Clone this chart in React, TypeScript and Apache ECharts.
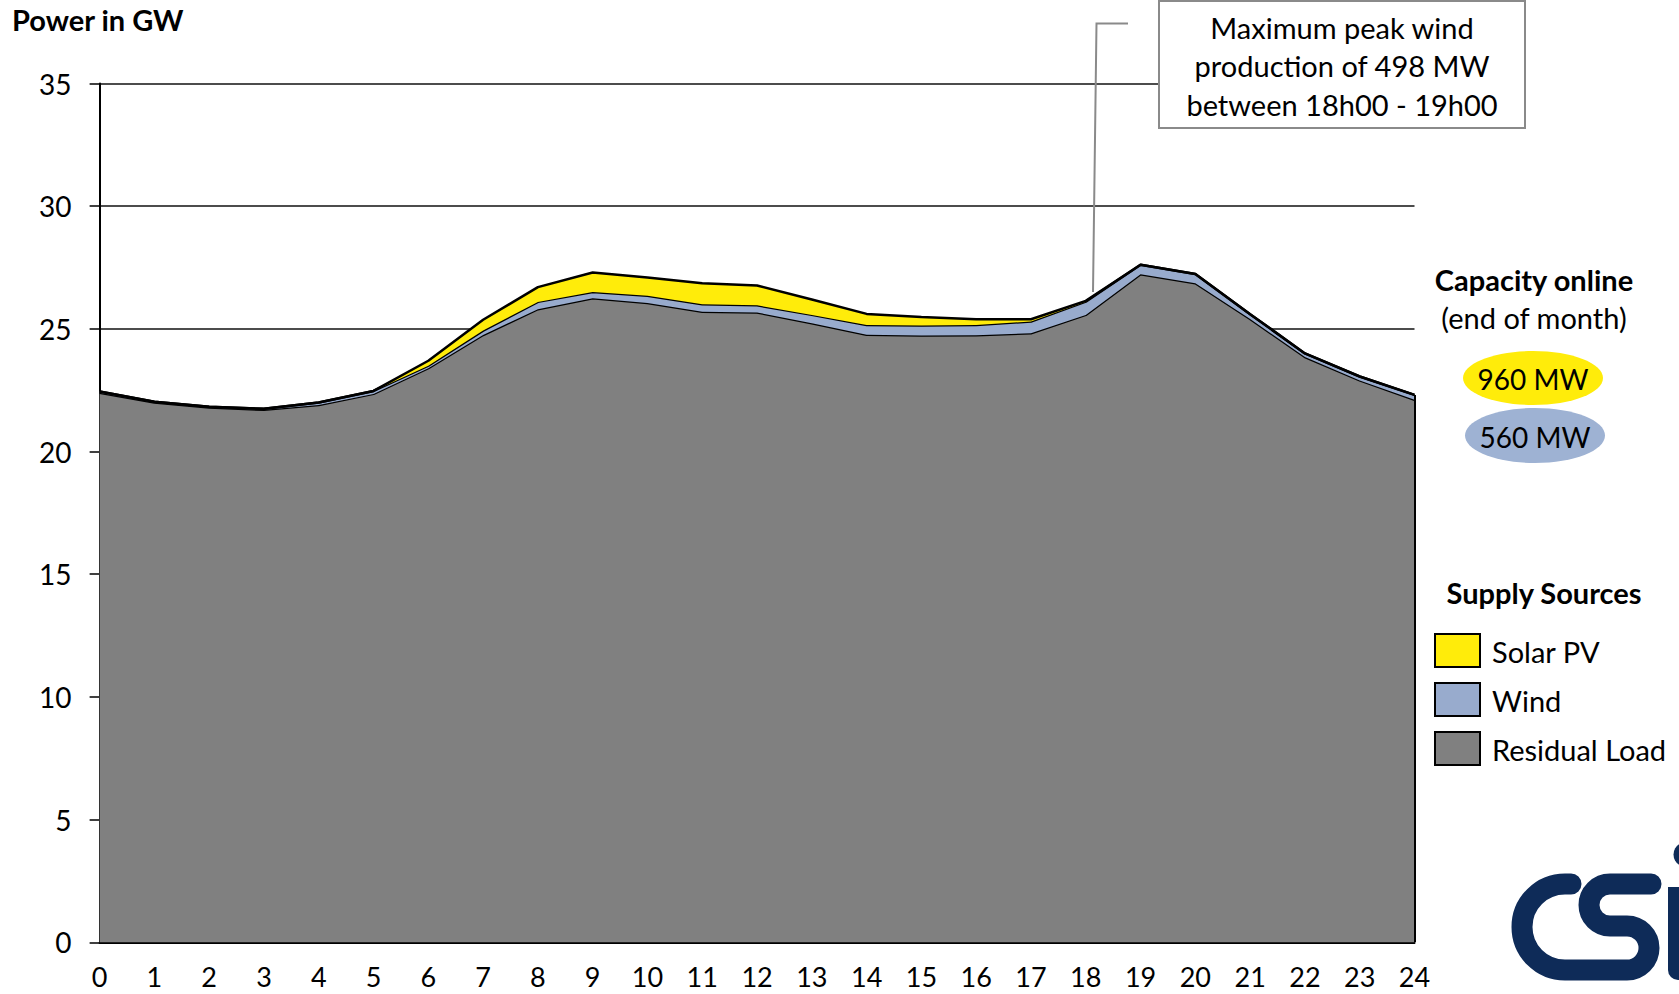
import React, { useEffect, useRef } from 'react';
import * as echarts from 'echarts';

// ---------- data ----------
const HOURS = ['0','1','2','3','4','5','6','7','8','9','10','11','12','13','14','15','16','17','18','19','20','21','22','23','24'];
const RESIDUAL_LOAD = [22.4, 22.0, 21.8, 21.7, 21.9, 22.35, 23.4, 24.75, 25.8, 26.25, 26.05, 25.7, 25.67, 25.23, 24.76, 24.73, 24.74, 24.82, 25.57, 27.23, 26.86, 25.4, 23.85, 22.9, 22.11];
const WIND = [0.05, 0.03, 0.03, 0.04, 0.1, 0.12, 0.1, 0.18, 0.3, 0.25, 0.3, 0.3, 0.29, 0.34, 0.4, 0.41, 0.42, 0.48, 0.54, 0.38, 0.38, 0.2, 0.15, 0.16, 0.2];
const SOLAR_PV = [0, 0, 0, 0, 0, 0, 0.2, 0.44, 0.6, 0.8, 0.74, 0.86, 0.81, 0.63, 0.45, 0.34, 0.23, 0.09, 0.03, 0, 0, 0, 0, 0, 0];
const Y_MIN = 0;
const Y_MAX = 35;
const Y_INTERVAL = 5;
const SERIES_NAMES = ['Residual Load', 'Wind', 'Solar PV'];
const LEGEND_ORDER = ['Solar PV', 'Wind', 'Residual Load'];
const CAPACITY_LABELS = ['960 MW', '560 MW'];
const ANNOTATION_LINES = ['Maximum peak wind', 'production of 498 MW', 'between 18h00 - 19h00'];

// ---------- styles ----------
const FONT = 'Lato, "Noto Sans", sans-serif';
const GRAY = '#808080';
const WIND_C = '#98abcd';
const YELLOW = '#ffec0a';
const NAVY = '#0e2b58';
const COLORS: Record<string, string> = { 'Residual Load': GRAY, 'Wind': WIND_C, 'Solar PV': YELLOW };

const LOGO_D = 'M 1571 884 L 1565 884 A 43 43 0 0 0 1565 970 L 1627 970 A 22 22 0 0 0 1627 926 L 1610 926 A 21 21 0 0 1 1610 884 L 1651 884';
try {
  echarts.graphic.registerShape('csiLogo', echarts.graphic.extendPath(LOGO_D, {}) as any);
} catch (e) {}

export default function App() {
  const ref = useRef<HTMLDivElement>(null);
  useEffect(() => {
    if (!ref.current) return;
    const chart = echarts.init(ref.current, undefined, { renderer: 'svg' });
    const seriesData = [RESIDUAL_LOAD, WIND, SOLAR_PV];
    const last = HOURS.length - 1;
    const totalLast = RESIDUAL_LOAD[last] + WIND[last] + SOLAR_PV[last];

    const series: any[] = SERIES_NAMES.map((name, i) => ({
      name,
      type: 'line',
      stack: 'total',
      data: seriesData[i],
      symbol: 'none',
      smooth: false,
      z: 2 + i,
      itemStyle: { color: COLORS[name] },
      lineStyle: { color: '#000', width: 2.5 },
      areaStyle: { color: COLORS[name], opacity: 1 },
      ...(i === 0
        ? {
            markLine: {
              silent: true,
              symbol: 'none',
              label: { show: false },
              lineStyle: { color: '#000', width: 2, type: 'solid' },
              data: [[{ coord: [HOURS[last], 0] }, { coord: [HOURS[last], totalLast] }]],
            },
          }
        : {}),
    }));

    const legendY = [634, 683, 732];
    const legendGraphics: any[] = [];
    LEGEND_ORDER.forEach((name, i) => {
      legendGraphics.push({
        type: 'rect',
        z: 100,
        shape: { x: 1435, y: legendY[i], width: 45, height: 33 },
        style: { fill: COLORS[name], stroke: '#000', lineWidth: 2 },
      });
      legendGraphics.push({
        type: 'text',
        z: 100,
        x: 1492,
        y: legendY[i] + 17,
        style: { text: name, font: `29px ${FONT}`, fill: '#000', verticalAlign: 'middle' },
      });
    });

    const annotation: any[] = [
      {
        type: 'polyline',
        z: 100,
        shape: { points: [[1128, 23.5], [1096.5, 23.5], [1093, 292]] },
        style: { stroke: '#8a8a8a', lineWidth: 2, fill: null },
      },
      {
        type: 'rect',
        z: 100,
        shape: { x: 1159, y: 1, width: 366, height: 127 },
        style: { fill: '#fff', stroke: '#8a8a8a', lineWidth: 2 },
      },
      ...ANNOTATION_LINES.map((t, i) => ({
        type: 'text',
        z: 101,
        x: 1342,
        y: 27 + i * 38.5,
        style: { text: t, font: `29px ${FONT}`, fill: '#000', align: 'center', verticalAlign: 'middle' },
      })),
    ];

    const capacity: any[] = [
      {
        type: 'text', z: 100, x: 1534, y: 279,
        style: { text: 'Capacity online', font: `bold 29px ${FONT}`, fill: '#000', align: 'center', verticalAlign: 'middle' },
      },
      {
        type: 'text', z: 100, x: 1534, y: 317,
        style: { text: '(end of month)', font: `29px ${FONT}`, fill: '#000', align: 'center', verticalAlign: 'middle' },
      },
      { type: 'ellipse', z: 100, shape: { cx: 1533, cy: 378, rx: 70, ry: 27 }, style: { fill: YELLOW } },
      { type: 'ellipse', z: 100, shape: { cx: 1535, cy: 435.5, rx: 70, ry: 27.5 }, style: { fill: '#9eb2d3' } },
      ...CAPACITY_LABELS.map((t, i) => ({
        type: 'text', z: 101, x: i === 0 ? 1533 : 1535, y: i === 0 ? 379 : 436.5,
        style: { text: t, font: `28px ${FONT}`, fill: '#000', align: 'center', verticalAlign: 'middle' },
      })),
      {
        type: 'text', z: 100, x: 1544, y: 592,
        style: { text: 'Supply Sources', font: `bold 29px ${FONT}`, fill: '#000', align: 'center', verticalAlign: 'middle' },
      },
    ];

    const logo: any[] = [
      {
        type: 'csiLogo', z: 100, x: 0, y: 0,
        style: { fill: 'none', stroke: NAVY, lineWidth: 21, lineCap: 'round', lineJoin: 'round' },
      },
      { type: 'rect', z: 100, shape: { x: 1668, y: 887, width: 30, height: 93, r: [0, 0, 0, 10] }, style: { fill: NAVY } },
      { type: 'circle', z: 100, shape: { cx: 1686, cy: 854.5, r: 12.5 }, style: { fill: NAVY } },
    ];

    const title: any[] = [
      {
        type: 'text', z: 100, x: 12, y: 19,
        style: { text: 'Power in GW', font: `bold 29px ${FONT}`, fill: '#000', verticalAlign: 'middle' },
      },
    ];

    chart.setOption({
      animation: false,
      backgroundColor: '#fff',
      grid: { left: 99.6, right: 264.5, top: 83.5, bottom: 51.7, containLabel: false },
      xAxis: {
        type: 'category',
        data: HOURS,
        boundaryGap: false,
        axisLine: { show: true, lineStyle: { color: '#000', width: 2 } },
        axisTick: { show: false },
        splitLine: { show: false },
        axisLabel: { interval: 0, margin: 20, color: '#000', fontSize: 27, lineHeight: 29, fontFamily: FONT },
      },
      yAxis: {
        type: 'value',
        min: Y_MIN,
        max: Y_MAX,
        interval: Y_INTERVAL,
        axisLine: { show: true, lineStyle: { color: '#000', width: 2 } },
        axisTick: { show: true, length: 10, lineStyle: { color: '#000', width: 1.5 } },
        splitLine: { show: true, lineStyle: { color: '#111', width: 1.5 } },
        axisLabel: { margin: 28, color: '#000', fontSize: 28, fontFamily: FONT },
      },
      legend: { show: false },
      series,
      graphic: { elements: [...title, ...annotation, ...capacity, ...legendGraphics, ...logo] },
    });
    return () => chart.dispose();
  }, []);
  return (
    <div
      ref={ref}
      style={{ position: 'fixed', left: 0, top: 0, width: 1679, height: 994, background: '#fff' }}
    />
  );
}
